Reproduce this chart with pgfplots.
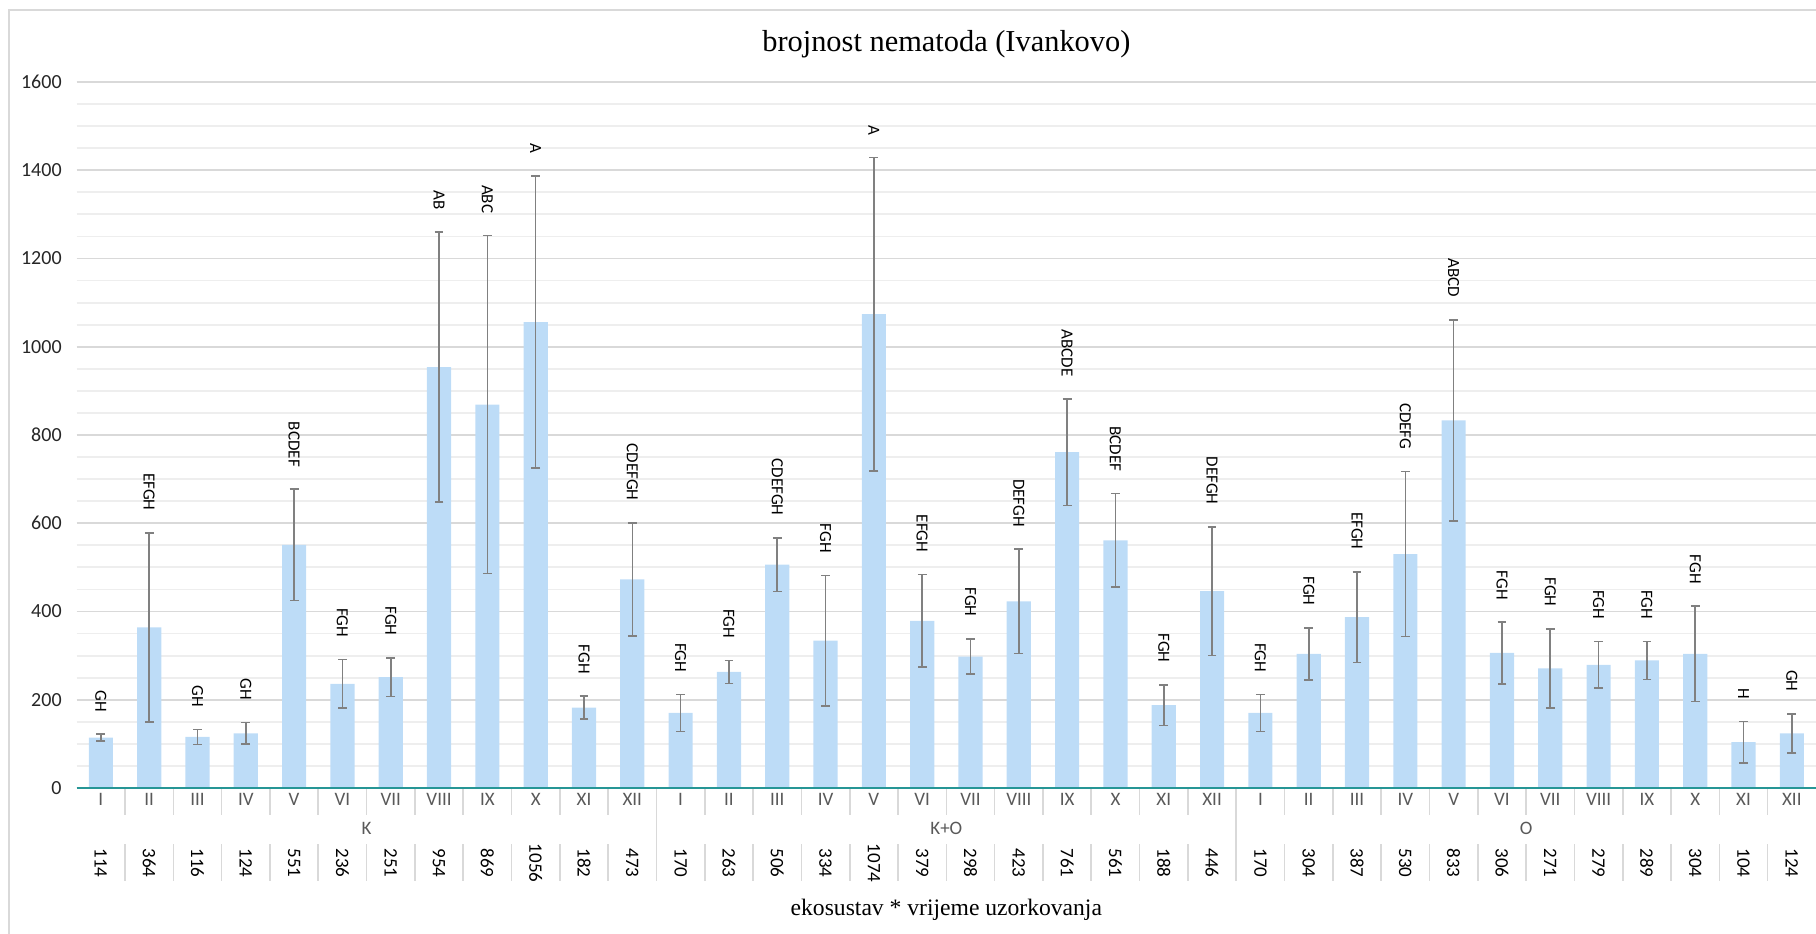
\documentclass[border=0pt]{standalone}
\usepackage{pgfplots}
\pgfplotsset{compat=1.18}
\usepackage{pgfplotstable}
\usepackage{fontspec}
\setmainfont{Liberation Serif}
\newfontfamily\calib{Carlito}

\definecolor{barblue}{RGB}{189,220,247}
\definecolor{axteal}{RGB}{38,150,150}
\definecolor{errgray}{RGB}{128,128,128}
\definecolor{majgrid}{RGB}{217,217,217}
\definecolor{mingrid}{RGB}{238,238,238}
\definecolor{labgray}{RGB}{89,89,89}

% mean, error (half range), letters
\pgfplotstableread{
x y e lab
0 114 8 GH
1 364 214 EFGH
2 116 17 GH
3 124 24 GH
4 551 126 BCDEF
5 236 55 FGH
6 251 44 FGH
7 954 306 AB
8 869 383 ABC
9 1056 331 A
10 182 26 FGH
11 473 128 CDEFGH
12 170 42 FGH
13 263 26 FGH
14 506 61 CDEFGH
15 334 148 FGH
16 1074 355 A
17 379 105 EFGH
18 298 40 FGH
19 423 118 DEFGH
20 761 121 ABCDE
21 561 106 BCDEF
22 188 46 FGH
23 446 146 DEFGH
24 170 42 FGH
25 304 59 FGH
26 387 103 EFGH
27 530 187 CDEFG
28 833 228 ABCD
29 306 70 FGH
30 271 90 FGH
31 279 53 FGH
32 289 43 FGH
33 304 108 FGH
34 104 47 H
35 124 44 GH
}\datatable

\begin{document}
\begin{tikzpicture}
\useasboundingbox (0,0) rectangle (908pt,466.5pt);
\draw[majgrid, line width=1pt] (4.5pt,-5pt) -- (4.5pt,461.5pt) -- (915pt,461.5pt);
\begin{axis}[
    at={(38.35pt,72.5pt)}, anchor=south west,
    scale only axis, width=869.65pt, height=353pt,
    xmin=-0.5, xmax=35.5, ymin=0, ymax=1600,
    clip=false,
    axis line style={draw=none},
    ytick={0,200,...,1600}, minor y tick num=3,
    ymajorgrids, yminorgrids,
    major grid style={majgrid, line width=0.9pt},
    minor grid style={mingrid, line width=0.9pt},
    tick style={draw=none},
    /pgf/number format/assume math mode=true,
    /pgf/number format/1000 sep={},
    yticklabel style={font=\calib\fontsize{10}{12}\selectfont, text=black!85, xshift=-4pt},
    xtick={0,...,35},
    xticklabels={I,II,III,IV,V,VI,VII,VIII,IX,X,XI,XII,I,II,III,IV,V,VI,VII,VIII,IX,X,XI,XII,I,II,III,IV,V,VI,VII,VIII,IX,X,XI,XII},
    xticklabel style={font=\calib\fontsize{9.5}{11}\selectfont, text=labgray, yshift=1pt},
    title={brojnost nematoda (Ivankovo)},
    title style={at={(0.5,1)}, anchor=center, yshift=13pt, font=\fontsize{15.2}{17}\selectfont},
]
\addplot[ybar, bar width=0.5, fill=barblue, draw=none,
    error bars/.cd, y dir=both, y explicit,
    error bar style={errgray, line width=0.8pt},
    error mark options={rotate=90, mark size=2.2pt, errgray, line width=0.8pt}]
  table[x=x, y=y, y error=e] {\datatable};

% letters above the error bars
\addplot[draw=none, mark=none, nodes near coords, point meta=explicit symbolic,
    nodes near coords style={font=\calib\fontsize{8.5}{10}\selectfont, text=black,
      yshift=10pt, rotate=-90, anchor=east, inner sep=1pt}]
  table[x=x, y expr=\thisrow{y}+\thisrow{e}, meta=lab] {\datatable};

% value row under the axis
\addplot[draw=none, mark=none, nodes near coords, point meta=explicit symbolic,
    nodes near coords style={font=\calib\fontsize{9.5}{11}\selectfont, text=black,
      yshift=-37.5pt, rotate=-90, anchor=center}]
  table[x=x, y expr=0, meta=y] {\datatable};

\draw[axteal, line width=1.1pt] (axis cs:-0.5,0) -- (axis cs:35.5,0);

\pgfplotsinvokeforeach{0.5,1.5,...,34.5}{
  \draw[majgrid, line width=0.8pt] ([yshift=-0.6pt]axis cs:#1,0) -- ([yshift=-13.5pt]axis cs:#1,0);
  \draw[majgrid, line width=0.8pt] ([yshift=-28pt]axis cs:#1,0) -- ([yshift=-46.5pt]axis cs:#1,0);
}
\draw[majgrid, line width=0.8pt] ([yshift=-0.6pt]axis cs:11.5,0) -- ([yshift=-46.5pt]axis cs:11.5,0);
\draw[majgrid, line width=0.8pt] ([yshift=-0.6pt]axis cs:23.5,0) -- ([yshift=-46.5pt]axis cs:23.5,0);

\node[font=\calib\fontsize{9.5}{11}\selectfont, text=labgray] at ([yshift=-20.3pt]axis cs:5.5,0) {K};
\node[font=\calib\fontsize{9.5}{11}\selectfont, text=labgray] at ([yshift=-20.3pt]axis cs:17.5,0) {K+O};
\node[font=\calib\fontsize{9.5}{11}\selectfont, text=labgray] at ([yshift=-20.3pt]axis cs:29.5,0) {O};

\node[font=\fontsize{11.8}{14}\selectfont] at ([yshift=-60.75pt]axis cs:17.5,0) {ekosustav * vrijeme uzorkovanja};
\end{axis}
\end{tikzpicture}
\end{document}
